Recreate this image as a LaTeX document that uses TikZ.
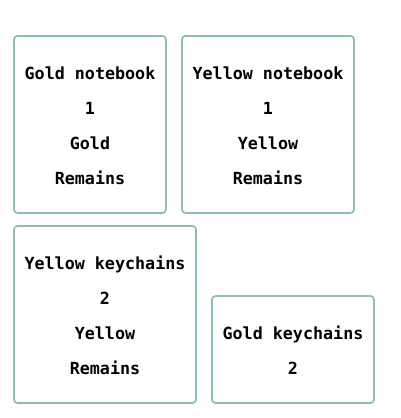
\documentclass[tikz,border=0pt]{standalone}
\usepackage{fontspec}
\newfontfamily\boxmono{DejaVu Sans Mono}[BoldFont={DejaVu Sans Mono Bold}]
\definecolor{boxline}{RGB}{140,192,165}
\begin{document}
\begin{tikzpicture}[x=1pt,y=-1pt,
  item/.style={draw=boxline,line width=1.7pt,rounded corners=3.5pt,fill=white,inner sep=0pt},
  label text/.style={align=center,inner sep=0pt,
    font={\boxmono\bfseries\fontsize{16.7}{35}\selectfont}}]
\useasboundingbox (0,0) rectangle (400,418);
\node[item,minimum width=152pt,minimum height=177pt] (gn) at (90,124.5) {};
\node[item,minimum width=172pt,minimum height=177pt] (yn) at (268,124.5) {};
\node[item,minimum width=182pt,minimum height=177pt] (yk) at (105,314.5) {};
\node[item,minimum width=162pt,minimum height=107pt] (gk) at (293,349.5) {};
\node[label text] (gnt) at (90,125.5) {Gold notebook\\1\\Gold\\Remains};
\node[label text] (ynt) at (268,125.5) {Yellow notebook\\1\\Yellow\\Remains};
\node[label text] (ykt) at (105,315.5) {Yellow keychains\\2\\Yellow\\Remains};
\node[label text] (gkt) at (293,350.5) {Gold keychains\\2};
\end{tikzpicture}
\end{document}
